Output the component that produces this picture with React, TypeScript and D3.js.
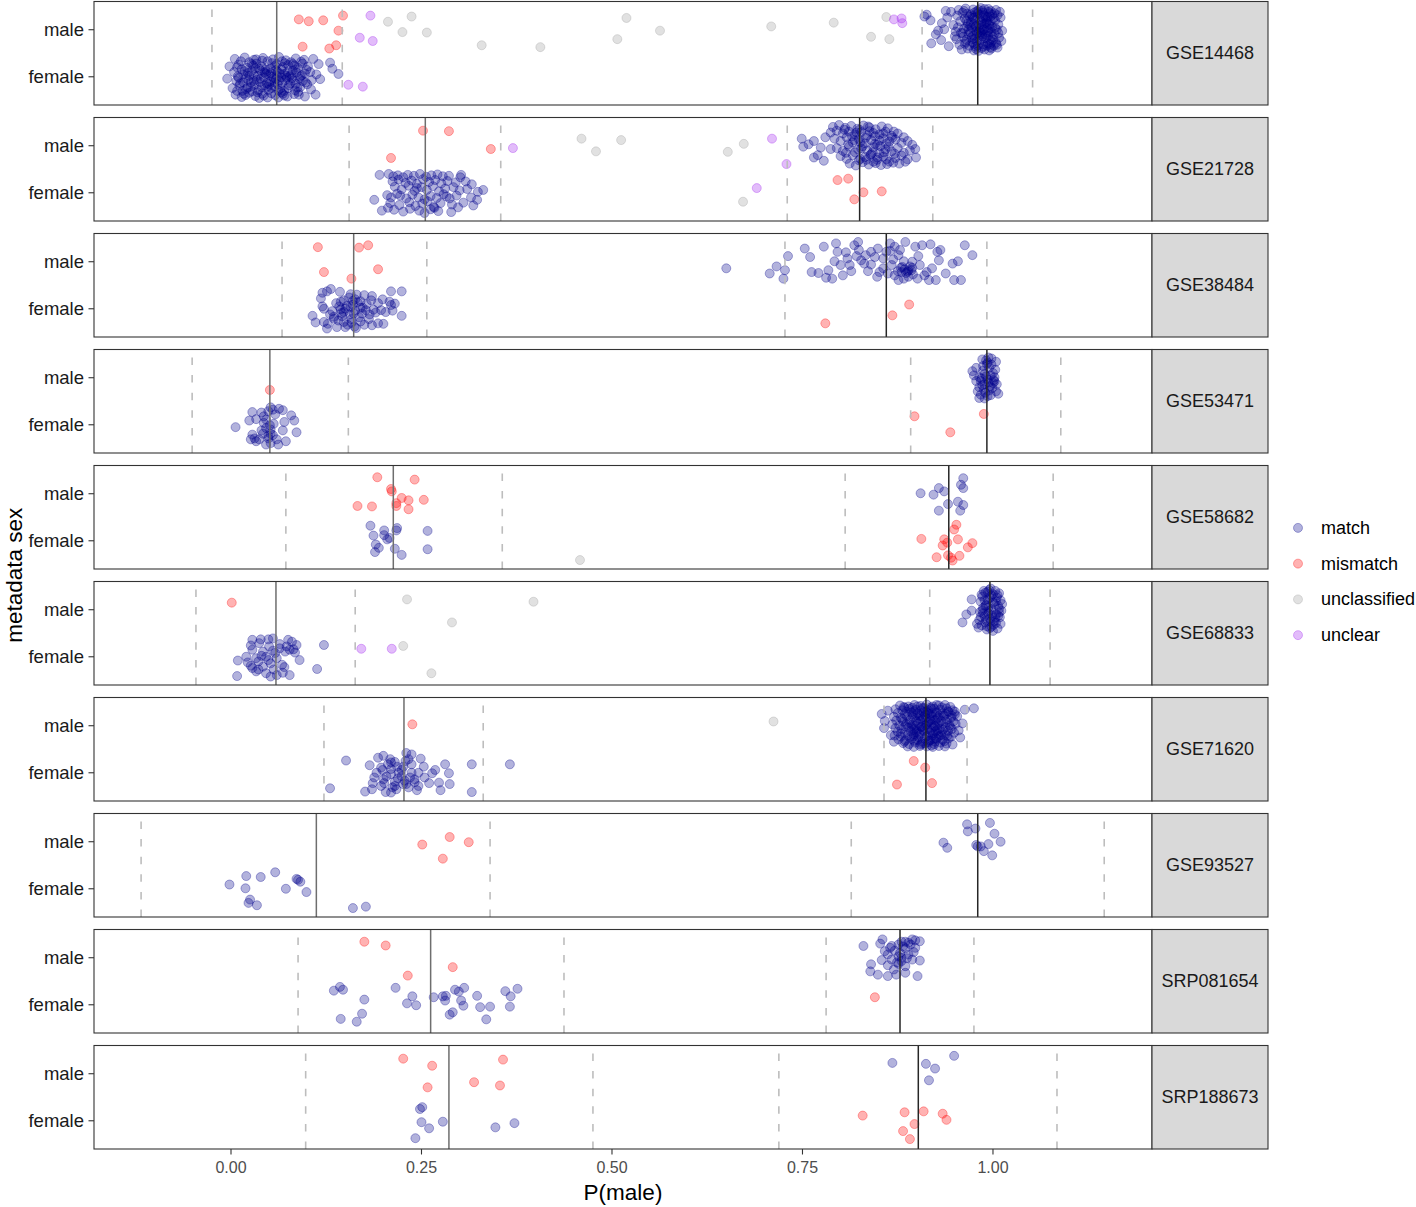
import React from 'react';
import * as d3 from 'd3';

type Pt = [number, number]; // [P(male), jittered sex value: female=1, male=2]

const datasets = ['GSE14468', 'GSE21728', 'GSE38484', 'GSE53471', 'GSE58682', 'GSE68833', 'GSE71620', 'GSE93527', 'SRP081654', 'SRP188673'];
const sexLevels = ['female', 'male'];
const statusLevels = ['match', 'mismatch', 'unclassified', 'unclear'];
const statusColors = ['#00008B', '#FF0000', '#9a9a9a', '#A020F0'];
const xTicks = [0, 0.25, 0.5, 0.75, 1.0];

const femaleMean = [0.060, 0.255, 0.161, 0.051, 0.213, 0.059, 0.227, 0.112, 0.262, 0.286];
const femaleLow = [-0.025, 0.155, 0.067, -0.051, 0.072, -0.046, 0.122, -0.118, 0.088, 0.098];
const femaleHigh = [0.146, 0.354, 0.257, 0.154, 0.356, 0.163, 0.331, 0.340, 0.437, 0.475];
const maleMean = [0.980, 0.825, 0.860, 0.992, 0.942, 0.996, 0.912, 0.980, 0.878, 0.902];
const maleLow = [0.907, 0.730, 0.727, 0.892, 0.806, 0.917, 0.857, 0.814, 0.781, 0.719];
const maleHigh = [1.052, 0.921, 0.992, 1.089, 1.079, 1.075, 0.966, 1.146, 0.975, 1.084];

// ---------------- GSE14468 ----------------
const gse14468Match: Pt[] = [
  [0.005,1.38],[0.018,1.41],[0.030,1.36],[0.042,1.40],[0.055,1.37],[0.063,1.42],[0.072,1.35],[0.085,1.39],[0.096,1.36],[0.108,1.38],[0.024,1.31],[0.048,1.33],[0.079,1.31],[0.130,1.30],[0.115,1.27],
  [-0.002,1.22],[0.010,1.26],[0.021,1.19],[0.033,1.28],[0.040,1.22],[0.052,1.18],[0.060,1.27],[0.068,1.21],[0.075,1.25],[0.088,1.19],[0.094,1.28],[0.101,1.22],[0.014,1.16],[0.029,1.24],[0.045,1.15],[0.058,1.23],[0.066,1.16],[0.083,1.24],[0.099,1.15],[0.133,1.17],[0.008,1.20],[0.037,1.17],[0.071,1.29],
  [0.004,1.10],[0.016,1.05],[0.027,1.12],[0.035,1.02],[0.044,1.09],[0.050,1.04],[0.061,1.11],[0.070,1.06],[0.077,1.01],[0.086,1.09],[0.093,1.03],[0.104,1.10],[0.112,1.05],[0.141,1.06],[0.009,1.01],[0.022,1.08],[0.039,1.13],[0.055,1.00],[0.064,1.07],[0.081,1.13],[0.097,1.07],[0.030,1.04],[0.047,1.12],[0.074,1.10],
  [-0.005,0.96],[0.007,0.91],[0.019,0.97],[0.026,0.88],[0.034,0.94],[0.043,0.99],[0.051,0.90],[0.059,0.95],[0.067,0.87],[0.073,0.98],[0.082,0.92],[0.090,0.96],[0.098,0.88],[0.106,0.93],[0.117,0.95],[0.012,0.86],[0.038,0.89],[0.056,0.97],[0.078,0.86],[0.094,0.91],[0.023,0.93],[0.063,0.92],[0.047,0.86],
  [0.002,0.76],[0.011,0.81],[0.020,0.74],[0.031,0.83],[0.040,0.78],[0.049,0.72],[0.057,0.80],[0.065,0.75],[0.076,0.82],[0.084,0.71],[0.091,0.78],[0.100,0.84],[0.015,0.70],[0.036,0.72],[0.061,0.84],[0.070,0.70],[0.087,0.77],[0.026,0.79],[0.053,0.76],[0.105,0.73],
  [0.006,0.62],[0.014,0.57],[0.024,0.66],[0.032,0.59],[0.041,0.64],[0.048,0.56],[0.058,0.61],[0.066,0.67],[0.074,0.58],[0.083,0.63],[0.097,0.58],[0.111,0.62],[0.019,0.61],[0.037,0.55],[0.053,0.65],[0.070,0.60],[0.088,0.68],[0.028,0.69],[0.062,0.56],
  [0.013,1.33],[0.027,1.27],[0.041,1.34],[0.054,1.29],[0.067,1.33],[0.081,1.27],[0.092,1.32],[0.018,1.12],[0.032,1.18],[0.046,1.06],[0.059,1.14],[0.072,1.02],[0.085,1.15],[0.010,0.98],[0.024,1.02],[0.039,0.96],[0.052,1.08],[0.066,0.99],[0.079,1.05],[0.091,1.00],
  [0.016,0.88],[0.030,0.91],[0.044,0.82],[0.057,0.88],[0.071,0.93],[0.085,0.85],[0.008,0.70],[0.022,0.77],[0.035,0.67],[0.048,0.79],[0.062,0.71],[0.075,0.76],[0.089,0.62],[0.017,0.64],[0.043,0.60],[0.068,0.64],[0.080,0.97],[0.033,1.37],[0.060,1.03],[0.050,0.84],
  [0.913,2.32],[0.910,2.28],[0.918,2.20],[0.933,2.14],[0.936,2.01],[0.925,1.90],[0.919,1.71],[0.932,1.78],[0.945,2.38],[0.940,2.26],[0.928,1.98],[0.942,1.65],[0.950,1.86],[0.938,2.40],[0.948,2.10],
  [0.955,2.42],[0.953,2.30],[0.957,2.18],[0.954,2.05],[0.958,1.93],[0.952,1.80],[0.956,1.68],[0.959,1.58],[0.960,2.36],[0.951,1.96],
  [0.964,2.45],[0.966,2.34],[0.963,2.24],[0.967,2.13],[0.962,2.02],[0.968,1.90],[0.965,1.79],[0.963,1.70],[0.967,1.60],[0.969,2.28],[0.961,1.85],[0.966,2.07],
  [0.974,2.43],[0.976,2.37],[0.973,2.29],[0.977,2.21],[0.975,2.12],[0.972,2.04],[0.978,1.97],[0.974,1.88],[0.976,1.81],[0.973,1.73],[0.977,1.64],[0.975,1.56],[0.971,2.16],[0.979,1.92],
  [0.984,2.46],[0.986,2.40],[0.983,2.32],[0.987,2.25],[0.985,2.17],[0.982,2.09],[0.988,2.01],[0.984,1.94],[0.986,1.86],[0.983,1.77],[0.987,1.69],[0.985,1.61],[0.981,1.55],[0.989,2.13],[0.982,1.98],[0.988,1.82],
  [0.994,2.44],[0.996,2.35],[0.993,2.27],[0.997,2.19],[0.995,2.10],[0.992,2.03],[0.998,1.95],[0.994,1.87],[0.996,1.78],[0.993,1.71],[0.997,1.63],[0.995,1.56],[0.991,2.22],[0.999,2.06],[0.990,1.90],[0.998,1.74],
  [1.004,2.42],[1.006,2.31],[1.003,2.20],[1.007,2.11],[1.005,2.00],[1.002,1.91],[1.008,1.83],[1.004,1.72],[1.006,1.62],[1.010,2.26],[1.012,1.98],[1.001,1.66],[1.009,2.38],[1.011,1.76],
  [0.980,2.35],[0.990,2.28],[0.978,2.08],[0.991,2.14],[0.986,1.90],[0.979,1.76],[0.992,1.66],[0.981,2.42],[0.997,2.40],[0.970,1.95],[0.989,1.58],[0.976,2.26],[0.994,1.98],[0.983,2.04],[0.999,2.32],[1.000,1.85],[0.972,1.84],[0.987,2.36],[0.996,2.02],[0.980,1.66],
  [0.962,2.40],[0.971,2.33],[0.979,2.39],[0.988,2.31],[0.997,2.28],[1.002,2.35],[0.965,2.19],[0.974,2.25],[0.983,2.20],[0.992,2.17],[1.001,2.24],[0.968,2.00],[0.977,2.06],[0.986,1.99],[0.995,2.13],[1.003,2.04],[0.964,1.74],[0.973,1.80],
  [0.982,1.87],[0.991,1.82],[1.000,1.79],[0.969,1.66],[0.978,1.59],[0.987,1.64],[0.996,1.69],[1.005,1.68],[0.960,1.93],[0.985,2.11],[0.993,1.94],[0.975,1.70],[0.989,2.44],[0.998,1.60],[0.970,2.09],[0.981,1.95],[0.994,2.38],[1.007,1.93],
];
const gse14468Mismatch: Pt[] = [[0.089,2.22],[0.102,2.18],[0.121,2.20],[0.147,2.30],[0.141,1.98],[0.094,1.64],[0.129,1.60],[0.138,1.67]];
const gse14468Unclassified: Pt[] = [[0.237,2.28],[0.206,2.17],[0.225,1.95],[0.257,1.94],[0.329,1.67],[0.406,1.63],[0.519,2.25],[0.563,1.98],[0.507,1.80],[0.709,2.07],[0.791,2.15],[0.860,2.27],[0.840,1.85],[0.864,1.80]];
const gse14468Unclear: Pt[] = [[0.183,2.30],[0.169,1.83],[0.186,1.76],[0.870,2.22],[0.880,2.24],[0.881,2.14],[0.154,0.83],[0.173,0.79]];

// ---------------- GSE21728 ----------------
const gse21728Match: Pt[] = [
  [0.188,0.85],[0.205,0.95],[0.198,0.62],[0.206,0.68],[0.195,1.38],[0.207,1.40],[0.213,1.35],[0.219,1.37],[0.226,1.33],[0.232,1.38],[0.240,1.36],[0.248,1.40],[0.256,1.34],[0.263,1.37],[0.271,1.39],[0.278,1.35],[0.286,1.36],[0.301,1.33],[0.302,1.38],
  [0.212,1.24],[0.220,1.28],[0.229,1.21],[0.237,1.26],[0.244,1.19],[0.252,1.29],[0.260,1.23],[0.268,1.27],[0.276,1.20],[0.284,1.25],[0.295,1.22],[0.308,1.24],[0.316,1.18],[0.244,1.10],
  [0.215,1.13],[0.224,1.07],[0.233,1.15],[0.241,1.04],[0.250,1.12],[0.257,1.06],[0.265,1.14],[0.273,1.03],[0.281,1.09],[0.292,1.12],[0.300,1.05],[0.310,1.08],[0.324,1.02],[0.331,1.06],[0.218,0.98],
  [0.210,0.90],[0.222,0.94],[0.230,0.88],[0.238,0.96],[0.246,0.90],[0.254,0.86],[0.262,0.93],[0.270,0.89],[0.279,0.97],[0.287,0.88],[0.296,0.94],[0.315,0.90],[0.323,0.85],[0.283,0.92],
  [0.209,0.78],[0.221,0.74],[0.234,0.80],[0.242,0.72],[0.251,0.77],[0.258,0.82],[0.266,0.70],[0.275,0.78],[0.290,0.75],[0.305,0.79],[0.298,0.69],[0.318,0.73],
  [0.214,0.64],[0.226,0.60],[0.235,0.66],[0.247,0.62],[0.254,0.57],[0.262,0.65],[0.272,0.61],[0.289,0.59],[0.267,0.68],
  [0.749,2.15],[0.751,1.98],[0.765,2.10],[0.765,1.75],[0.774,1.96],[0.787,1.93],[0.758,2.03],[0.770,1.80],[0.780,2.18],[0.778,1.68],
  [0.790,2.40],[0.798,2.44],[0.806,2.38],[0.814,2.42],[0.822,2.36],[0.830,2.43],[0.838,2.39],[0.846,2.35],[0.854,2.41],[0.862,2.37],[0.870,2.30],
  [0.787,2.28],[0.795,2.32],[0.803,2.26],[0.811,2.30],[0.819,2.24],[0.827,2.29],[0.835,2.22],[0.843,2.27],[0.851,2.24],[0.859,2.30],[0.867,2.21],[0.875,2.26],[0.883,2.18],
  [0.792,2.15],[0.800,2.10],[0.808,2.18],[0.816,2.07],[0.824,2.14],[0.832,2.05],[0.840,2.12],[0.848,2.02],[0.856,2.16],[0.864,2.09],[0.872,2.13],[0.880,2.06],[0.888,2.10],[0.894,2.02],
  [0.795,1.95],[0.803,1.89],[0.811,1.98],[0.819,1.86],[0.827,1.94],[0.835,1.90],[0.843,1.97],[0.851,1.84],[0.859,1.92],[0.867,1.88],[0.875,1.95],[0.883,1.85],[0.891,1.90],[0.898,1.93],
  [0.800,1.78],[0.808,1.72],[0.816,1.80],[0.824,1.69],[0.832,1.76],[0.840,1.82],[0.848,1.70],[0.856,1.77],[0.864,1.66],[0.872,1.74],[0.880,1.79],[0.888,1.71],[0.899,1.75],[0.877,1.62],
  [0.812,1.62],[0.820,1.58],[0.829,1.65],[0.837,1.60],[0.846,1.63],[0.853,1.59],[0.861,1.61],[0.869,1.64],[0.885,1.66],
  [0.825,2.34],[0.845,2.20],[0.829,1.99],[0.842,1.86],[0.834,1.70],[0.852,1.99],[0.818,2.12],[0.860,2.05],[0.836,2.41],[0.848,1.75],
  [0.805,2.34],[0.821,2.28],[0.838,2.31],[0.856,2.26],[0.815,2.20],[0.833,2.17],[0.851,2.11],[0.868,2.17],[0.810,2.03],[0.826,2.08],[0.845,2.04],[0.863,1.98],[0.807,1.85],[0.823,1.92],[0.839,1.80],[0.857,1.86],[0.871,1.83],[0.826,1.72],[0.843,1.66],[0.860,1.71],
];
const gse21728Mismatch: Pt[] = [[0.252,2.32],[0.286,2.31],[0.341,1.93],[0.210,1.74],[0.796,1.27],[0.810,1.30],[0.830,1.01],[0.854,1.03],[0.818,0.86]];
const gse21728Unclassified: Pt[] = [[0.460,2.15],[0.512,2.12],[0.479,1.88],[0.652,1.87],[0.673,2.04],[0.672,0.81]];
const gse21728Unclear: Pt[] = [[0.370,1.95],[0.710,2.15],[0.729,1.61],[0.690,1.10]];

// ---------------- GSE38484 ----------------
const gse38484Match: Pt[] = [
  [0.131,1.42],[0.126,1.37],[0.143,1.36],[0.157,1.31],[0.175,1.29],[0.185,1.27],[0.210,1.37],[0.224,1.37],[0.120,1.34],[0.118,1.22],[0.144,1.15],[0.160,1.17],[0.170,1.16],[0.184,1.18],[0.193,1.12],[0.215,1.11],
  [0.197,0.97],[0.203,0.93],[0.224,0.85],[0.107,0.85],[0.111,0.71],[0.122,0.72],[0.135,0.79],[0.144,0.99],[0.148,0.93],[0.161,0.90],[0.170,0.73],[0.182,0.88],[0.185,0.65],[0.193,0.69],[0.126,0.58],[0.150,0.61],
  [0.164,0.59],[0.139,0.61],[0.130,0.88],[0.122,1.00],[0.157,1.04],[0.173,1.02],[0.210,1.08],[0.208,1.15],
  [0.152,1.06],[0.163,0.96],[0.146,0.84],[0.178,1.10],[0.168,0.82],[0.155,1.24],[0.138,1.12],[0.187,0.98],[0.158,0.70],[0.175,0.66],[0.133,0.95],[0.199,1.20],[0.165,1.30],[0.141,0.75],[0.181,0.78],[0.190,0.92],
  [0.148,1.18],[0.170,1.02],[0.156,0.88],[0.120,1.05],[0.200,0.68],[0.212,0.96],[0.127,0.68],[0.162,0.62],
  [0.150,1.00],[0.160,1.09],[0.145,0.91],[0.172,0.90],[0.158,0.78],[0.142,1.05],[0.166,1.14],[0.135,0.83],[0.177,0.97],[0.153,0.66],[0.148,0.72],[0.163,1.20],
  [0.650,1.86],[0.707,1.75],[0.716,1.90],[0.725,1.64],[0.727,1.82],[0.731,2.12],[0.753,2.28],[0.760,2.10],[0.771,1.76],[0.781,1.66],[0.784,1.82],[0.789,1.64],[0.794,2.39],[0.796,2.21],[0.800,1.93],[0.807,2.20],
  [0.809,2.07],[0.814,1.80],[0.818,2.35],[0.821,2.12],[0.823,2.42],[0.827,2.03],[0.831,1.96],[0.836,1.80],[0.840,2.21],[0.845,2.10],[0.849,2.28],[0.851,1.78],[0.856,2.07],[0.860,2.21],[0.865,2.39],[0.867,1.93],
  [0.871,2.32],[0.876,2.14],[0.880,1.78],[0.883,1.64],[0.885,2.42],[0.889,1.82],[0.894,2.00],[0.898,2.32],[0.902,2.12],[0.907,2.35],[0.910,1.71],[0.916,1.61],[0.918,2.37],[0.920,1.86],[0.925,1.61],[0.929,2.03],
  [0.931,2.25],[0.938,1.75],[0.947,1.96],[0.949,1.61],[0.954,2.01],[0.958,1.61],[0.963,2.35],[0.973,2.14],[0.862,1.75],[0.871,1.71],[0.881,1.89],[0.889,1.68],[0.895,1.73],[0.869,2.05],[0.856,1.86],[0.833,2.14],
  [0.812,1.93],[0.824,2.25],[0.840,1.94],[0.878,2.25],[0.904,1.93],[0.913,1.78],[0.927,2.21],[0.848,1.68],[0.792,2.01],[0.803,1.71],[0.762,1.78],[0.778,2.32],[0.865,2.23],[0.883,2.01],[0.894,1.87],[0.901,1.64],
  [0.876,1.61],[0.884,1.84],[0.888,1.79],[0.891,1.90],[0.879,1.87],[0.886,1.76],[0.893,1.82],[0.875,1.80],
];
const gse38484Mismatch: Pt[] = [[0.114,2.31],[0.168,2.30],[0.180,2.35],[0.122,1.78],[0.193,1.84],[0.158,1.64],[0.890,1.09],[0.868,0.86],[0.780,0.69]];
const gse38484Unclassified: Pt[] = [];
const gse38484Unclear: Pt[] = [];

// ---------------- GSE53471 ----------------
const gse53471Match: Pt[] = [
  [0.052,1.37],[0.055,1.32],[0.049,1.29],[0.028,1.27],[0.040,1.26],[0.068,1.31],[0.079,1.20],[0.083,1.09],[0.024,1.09],[0.033,1.12],[0.043,1.04],[0.051,0.99],[0.006,0.95],[0.070,1.06],[0.046,0.93],[0.052,0.90],
  [0.068,0.88],[0.086,0.84],[0.028,0.79],[0.042,0.81],[0.055,0.78],[0.037,0.69],[0.026,0.69],[0.049,0.71],[0.060,0.69],[0.072,0.65],[0.046,0.58],[0.062,0.58],[0.052,0.61],[0.033,0.65],[0.043,1.18],[0.058,1.22],
  [0.046,1.11],[0.052,0.81],[0.040,0.88],[0.056,1.02],[0.049,0.76],[0.031,0.71],[0.063,1.34],
  [0.998,2.41],[1.004,2.34],[0.993,2.32],[0.987,2.25],[0.978,2.21],[0.973,2.14],[1.000,2.10],[0.989,2.08],[0.982,2.01],[1.002,2.01],[0.993,1.96],[0.978,1.93],[1.000,1.89],[0.989,1.86],[0.982,1.80],[1.004,1.71],
  [0.995,1.73],[0.984,1.64],[0.993,1.61],[0.982,1.57],[1.007,1.66],[0.995,2.21],[0.991,2.37],[0.987,2.15],[0.998,2.28],[0.984,1.93],[0.996,1.82],[1.001,1.95],[0.980,1.71],[0.991,2.03],[0.988,1.75],[0.997,1.63],
  [0.975,2.05],[1.003,2.17],[0.994,1.90],[0.989,1.56],[0.986,2.39],[1.005,1.86],
  [0.992,2.29],[0.997,2.05],[0.985,1.98],[0.999,1.78],[0.990,1.68],[0.994,2.43],[1.002,1.92],[0.986,1.84],
];
const gse53471Mismatch: Pt[] = [[0.051,1.74],[0.897,1.18],[0.988,1.23],[0.944,0.84]];
const gse53471Unclassified: Pt[] = [];
const gse53471Unclear: Pt[] = [];

// ---------------- GSE58682 ----------------
const gse58682Match: Pt[] = [
  [0.183,1.32],[0.218,1.27],[0.201,1.22],[0.217,1.22],[0.258,1.21],[0.187,1.11],[0.201,1.12],[0.208,1.06],[0.205,1.03],[0.190,0.92],[0.215,0.83],[0.189,0.76],[0.194,0.85],[0.258,0.82],[0.224,0.70],
  [0.961,2.33],[0.958,2.19],[0.961,2.12],[0.929,2.12],[0.936,2.05],[0.905,2.01],[0.922,1.98],[0.954,1.83],[0.961,1.76],[0.941,1.78],[0.929,1.64],[0.957,1.64],
];
const gse58682Mismatch: Pt[] = [
  [0.192,2.35],[0.241,2.30],[0.210,2.10],[0.211,2.05],[0.224,1.91],[0.233,1.86],[0.253,1.87],[0.166,1.74],[0.185,1.73],[0.217,1.80],[0.217,1.74],[0.233,1.67],
  [0.952,1.34],[0.949,1.24],[0.906,1.04],[0.936,1.03],[0.954,1.03],[0.934,0.90],[0.940,0.96],[0.973,0.95],[0.967,0.86],[0.926,0.65],[0.941,0.69],[0.947,0.58],[0.956,0.68],[0.945,0.64],
];
const gse58682Unclassified: Pt[] = [[0.458,0.59]];
const gse58682Unclear: Pt[] = [];

// ---------------- GSE68833 ----------------
const gse68833Match: Pt[] = [
  [0.028,1.36],[0.039,1.37],[0.049,1.37],[0.055,1.39],[0.075,1.36],[0.080,1.32],[0.086,1.25],[0.026,1.24],[0.037,1.29],[0.050,1.22],[0.064,1.18],[0.077,1.15],[0.028,1.15],[0.042,1.11],[0.058,1.08],[0.071,1.11],
  [0.084,1.09],[0.020,1.00],[0.033,0.97],[0.046,1.00],[0.060,0.97],[0.090,0.93],[0.009,0.92],[0.022,0.88],[0.036,0.90],[0.052,0.86],[0.067,0.83],[0.028,0.76],[0.042,0.79],[0.056,0.73],[0.070,0.78],[0.033,0.69],
  [0.046,0.65],[0.060,0.61],[0.077,0.61],[0.008,0.59],[0.052,0.58],[0.068,0.66],[0.026,0.81],[0.040,1.02],[0.055,1.13],[0.064,1.27],[0.049,0.93],[0.036,0.73],[0.073,1.22],[0.082,1.16],[0.122,1.25],[0.113,0.74],
  [0.972,2.22],[0.972,1.98],[0.965,1.90],[0.960,1.73],
  [0.995,2.42],[1.003,2.40],[0.990,2.36],[1.008,2.35],[0.998,2.30],[0.986,2.28],[1.005,2.26],[0.993,2.22],[1.010,2.20],[0.984,2.17],[1.000,2.15],[0.991,2.10],[1.007,2.08],[0.987,2.04],[0.998,2.01],[1.011,1.98],
  [0.983,1.95],[0.994,1.92],[1.004,1.90],[0.989,1.86],[1.009,1.84],[0.996,1.81],[0.982,1.78],[1.002,1.76],[0.990,1.73],[1.010,1.70],[0.985,1.67],[0.998,1.64],[0.981,1.62],[1.006,1.60],[0.992,1.58],[1.000,1.55],
  [0.988,2.40],[1.012,2.12],[0.979,1.70],[0.997,2.45],[1.001,1.68],[0.994,2.05],[0.987,1.92],[1.004,2.18],[0.999,1.88],[0.985,2.32],[1.008,1.94],[0.992,1.65],[0.996,2.25],[1.003,1.83],
  [0.993,2.38],[1.006,2.31],[0.989,2.20],[1.002,2.12],[0.995,1.97],[1.007,1.87],[0.991,1.78],[1.004,1.72],[0.996,1.61],[0.986,1.98],[1.000,2.33],[0.990,2.08],[1.008,2.02],[0.997,1.75],[0.984,1.85],
];
const gse68833Mismatch: Pt[] = [[0.001,2.15]];
const gse68833Unclassified: Pt[] = [[0.231,2.22],[0.397,2.17],[0.290,1.73],[0.226,1.23],[0.263,0.65]];
const gse68833Unclear: Pt[] = [[0.171,1.17],[0.211,1.17]];

// ---------------- GSE71620 ----------------
const gse71620Match: Pt[] = [
  [0.151,1.26],[0.130,0.67],[0.316,1.18],[0.366,1.18],[0.316,0.59],[0.176,0.60],[0.193,1.32],[0.200,1.36],[0.209,1.29],[0.215,1.23],[0.182,1.16],[0.197,1.11],[0.210,1.08],[0.230,1.42],[0.237,1.39],[0.233,1.29],
  [0.249,1.30],[0.226,1.13],[0.237,1.00],[0.224,0.93],[0.210,0.97],[0.200,0.86],[0.188,0.90],[0.186,0.78],[0.201,0.78],[0.215,0.81],[0.228,0.83],[0.241,0.86],[0.254,0.90],[0.264,0.99],[0.268,1.06],[0.281,1.18],
  [0.286,0.99],[0.287,0.76],[0.273,0.79],[0.260,0.78],[0.246,0.72],[0.233,0.69],[0.217,0.65],[0.203,0.59],[0.210,0.58],[0.244,0.63],[0.275,0.63],[0.224,1.06],[0.219,0.88],[0.206,1.18],[0.191,1.00],[0.237,1.18],
  [0.253,1.13],[0.230,0.76],[0.215,0.72],[0.197,0.72],[0.246,1.00],[0.185,0.65],
  [0.210,1.22],[0.220,1.00],[0.204,0.92],[0.226,0.76],[0.235,0.90],[0.218,1.13],[0.241,0.80],[0.199,1.06],[0.212,0.69],[0.229,1.25],
  [0.975,2.37],[0.963,2.34],[0.854,2.25],[0.858,2.10],[0.857,1.95],[0.862,2.32],[0.866,1.80],[0.870,1.66],[0.960,2.05],[0.955,1.90],[0.950,2.30],[0.957,1.75],
  [0.878,2.43],[0.889,2.41],[0.897,2.44],[0.905,2.42],[0.913,2.45],[0.921,2.41],[0.929,2.43],[0.937,2.44],[0.944,2.40],[0.884,2.38],
  [0.872,2.35],[0.881,2.33],[0.890,2.36],[0.899,2.34],[0.907,2.37],[0.915,2.33],[0.923,2.36],[0.931,2.34],[0.939,2.37],[0.947,2.33],[0.918,2.39],
  [0.875,2.27],[0.884,2.25],[0.893,2.28],[0.901,2.26],[0.909,2.29],[0.917,2.25],[0.926,2.28],[0.934,2.26],[0.942,2.29],[0.950,2.24],[0.896,2.31],
  [0.870,2.19],[0.879,2.17],[0.887,2.20],[0.895,2.18],[0.904,2.21],[0.912,2.17],[0.920,2.20],[0.928,2.18],[0.936,2.21],[0.945,2.17],[0.953,2.20],[0.911,2.23],
  [0.873,2.11],[0.882,2.09],[0.891,2.12],[0.899,2.10],[0.907,2.13],[0.916,2.09],[0.924,2.12],[0.932,2.10],[0.940,2.13],[0.948,2.09],[0.927,2.15],
  [0.868,2.03],[0.877,2.01],[0.886,2.04],[0.894,2.02],[0.902,2.05],[0.911,2.01],[0.919,2.04],[0.927,2.02],[0.935,2.05],[0.943,2.01],[0.951,2.04],[0.906,1.98],
  [0.872,1.95],[0.880,1.93],[0.889,1.96],[0.897,1.94],[0.906,1.97],[0.914,1.93],[0.922,1.96],[0.930,1.94],[0.938,1.97],[0.946,1.93],[0.918,1.90],
  [0.875,1.87],[0.884,1.85],[0.892,1.88],[0.900,1.86],[0.909,1.89],[0.917,1.85],[0.925,1.88],[0.933,1.86],[0.941,1.89],[0.949,1.85],[0.896,1.82],
  [0.871,1.79],[0.879,1.77],[0.888,1.80],[0.896,1.78],[0.904,1.81],[0.913,1.77],[0.921,1.80],[0.929,1.78],[0.937,1.81],[0.945,1.77],[0.925,1.74],
  [0.876,1.71],[0.885,1.69],[0.893,1.72],[0.901,1.70],[0.910,1.73],[0.918,1.69],[0.926,1.72],[0.934,1.70],[0.942,1.73],[0.907,1.66],
  [0.882,1.63],[0.890,1.61],[0.898,1.64],[0.907,1.62],[0.915,1.65],[0.923,1.61],[0.931,1.64],[0.939,1.62],[0.947,1.60],
  [0.888,1.56],[0.896,1.55],[0.904,1.57],[0.913,1.56],[0.921,1.55],[0.929,1.57],[0.937,1.56],
  [0.903,2.15],[0.915,2.07],[0.908,1.92],[0.921,1.84],[0.898,2.00],[0.912,2.30],[0.924,1.99],[0.902,1.76],[0.916,1.68],[0.930,2.22],[0.895,2.24],[0.909,2.38],[0.920,2.27],[0.900,1.90],[0.913,2.03],[0.927,1.91],
  [0.905,1.60],[0.918,2.12],[0.893,1.98],[0.932,1.80],
  [0.883,2.40],[0.894,2.38],[0.906,2.33],[0.919,2.36],[0.933,2.39],[0.941,2.31],[0.887,2.30],[0.899,2.22],[0.914,2.27],[0.925,2.23],[0.938,2.25],[0.946,2.21],[0.881,2.14],[0.890,2.07],[0.905,2.10],[0.917,2.15],
  [0.929,2.06],[0.939,2.08],[0.885,1.99],[0.896,1.91],[0.910,1.95],[0.923,2.00],[0.934,1.91],[0.944,1.97],[0.879,1.83],[0.891,1.76],[0.903,1.84],[0.915,1.79],[0.928,1.83],[0.940,1.78],[0.884,1.66],[0.897,1.68],
  [0.911,1.62],[0.924,1.66],[0.936,1.67],[0.919,1.58],[0.901,2.41],[0.926,2.44],[0.908,2.18],[0.922,1.72],
];
const gse71620Mismatch: Pt[] = [[0.238,2.03],[0.896,1.25],[0.911,1.11],[0.874,0.75],[0.920,0.78]];
const gse71620Unclassified: Pt[] = [[0.712,2.09]];
const gse71620Unclear: Pt[] = [];

// ---------------- GSE93527 ----------------
const gse93527Match: Pt[] = [
  [0.058,1.35],[0.020,1.27],[0.039,1.25],[0.086,1.21],[0.088,1.19],[0.091,1.15],[-0.002,1.09],[0.019,1.01],[0.072,1.00],[0.099,0.93],[0.025,0.77],[0.023,0.70],[0.034,0.65],[0.160,0.59],[0.177,0.62],
  [0.966,2.37],[0.996,2.40],[0.977,2.28],[0.967,2.22],[1.002,2.17],[0.935,1.98],[0.940,1.87],[1.010,2.00],[0.994,1.95],[0.978,1.93],[0.984,1.90],[0.988,1.80],[0.999,1.71],[0.980,1.90],
];
const gse93527Mismatch: Pt[] = [[0.287,2.10],[0.312,1.99],[0.251,1.94],[0.278,1.64]];
const gse93527Unclassified: Pt[] = [];
const gse93527Unclear: Pt[] = [];

// ---------------- SRP081654 ----------------
const srp081654Match: Pt[] = [
  [0.135,1.30],[0.143,1.38],[0.147,1.32],[0.216,1.36],[0.175,1.11],[0.231,1.03],[0.238,1.18],[0.243,0.99],[0.144,0.70],[0.165,0.64],[0.172,0.81],[0.266,1.16],[0.278,1.18],[0.282,1.19],[0.281,1.09],
  [0.294,1.32],[0.299,1.28],[0.306,1.36],[0.302,1.09],[0.305,0.98],[0.291,0.84],[0.287,0.79],[0.323,1.19],[0.327,0.95],[0.340,0.96],[0.335,0.69],[0.360,1.29],[0.367,1.18],[0.376,1.34],[0.366,0.96],
  [0.830,2.25],[0.852,2.30],[0.855,2.39],[0.880,2.34],[0.894,2.39],[0.898,2.37],[0.904,2.35],[0.889,2.32],[0.876,2.28],[0.867,2.25],[0.858,2.14],[0.871,2.15],[0.885,2.20],[0.898,2.21],[0.862,2.07],
  [0.876,2.03],[0.889,2.07],[0.854,1.95],[0.867,1.96],[0.880,1.93],[0.894,1.96],[0.904,1.94],[0.840,1.86],[0.862,1.84],[0.876,1.87],[0.885,1.82],[0.839,1.71],[0.849,1.64],[0.862,1.61],[0.873,1.64],
  [0.885,1.68],[0.901,1.61],[0.870,1.75],[0.880,2.00],[0.865,2.21],[0.885,2.34],[0.892,2.28],[0.878,2.10],[0.887,1.99],[0.874,1.90],[0.896,2.12],[0.882,2.24],
];
const srp081654Mismatch: Pt[] = [[0.175,2.34],[0.203,2.26],[0.291,1.80],[0.232,1.62],[0.845,1.16]];
const srp081654Unclassified: Pt[] = [];
const srp081654Unclear: Pt[] = [];

// ---------------- SRP188673 ----------------
const srp188673Match: Pt[] = [
  [0.868,2.23],[0.912,2.21],[0.924,2.11],[0.949,2.38],[0.916,1.86],
  [0.248,1.25],[0.251,1.29],[0.250,0.97],[0.278,0.98],[0.260,0.84],[0.242,0.63],[0.347,0.86],[0.372,0.95],
];
const srp188673Mismatch: Pt[] = [[0.226,2.32],[0.264,2.17],[0.357,2.30],[0.319,1.82],[0.353,1.75],[0.258,1.71],[0.829,1.11],[0.884,1.18],[0.909,1.20],[0.934,1.15],[0.939,1.02],[0.897,0.93],[0.882,0.78],[0.891,0.61]];
const srp188673Unclassified: Pt[] = [];
const srp188673Unclear: Pt[] = [];

const pointsByDataset: Pt[][][] = [
  [gse14468Match, gse14468Mismatch, gse14468Unclassified, gse14468Unclear],
  [gse21728Match, gse21728Mismatch, gse21728Unclassified, gse21728Unclear],
  [gse38484Match, gse38484Mismatch, gse38484Unclassified, gse38484Unclear],
  [gse53471Match, gse53471Mismatch, gse53471Unclassified, gse53471Unclear],
  [gse58682Match, gse58682Mismatch, gse58682Unclassified, gse58682Unclear],
  [gse68833Match, gse68833Mismatch, gse68833Unclassified, gse68833Unclear],
  [gse71620Match, gse71620Mismatch, gse71620Unclassified, gse71620Unclear],
  [gse93527Match, gse93527Mismatch, gse93527Unclassified, gse93527Unclear],
  [srp081654Match, srp081654Mismatch, srp081654Unclassified, srp081654Unclear],
  [srp188673Match, srp188673Mismatch, srp188673Unclassified, srp188673Unclear],
];

const W = 1416;
const H = 1207;
const plotLeft = 94;
const plotRight = 1152;
const stripRight = 1268;
const panelTop0 = 1.5;
const panelStep = 116;
const panelH = 103.5;
const FONT = '"Liberation Sans", Arial, Helvetica, sans-serif';
const R = 4.5;

export default function App() {
  const x = d3.scaleLinear().domain([-0.1798, 1.2087]).range([plotLeft, plotRight]);
  const lastBottom = panelTop0 + (datasets.length - 1) * panelStep + panelH;
  const legendY = d3.scaleBand().domain(statusLevels).range([510, 653]);

  return (
    <svg width={W} height={H} style={{ position: 'absolute', left: 0, top: 0, background: '#fff' }} fontFamily={FONT}>
      {datasets.map((ds, i) => {
        const top = panelTop0 + i * panelStep;
        const y = d3.scaleLinear().domain([0.4, 2.6]).range([top + panelH, top]);
        const vlines = [
          { v: femaleLow[i], kind: 'dash' },
          { v: femaleHigh[i], kind: 'dash' },
          { v: maleLow[i], kind: 'dash' },
          { v: maleHigh[i], kind: 'dash' },
          { v: femaleMean[i], kind: 'femaleMean' },
          { v: maleMean[i], kind: 'maleMean' },
        ];
        return (
          <g key={ds}>
            <rect x={plotLeft} y={top} width={plotRight - plotLeft} height={panelH} fill="#fff" />
            <clipPath id={`clip${i}`}>
              <rect x={plotLeft} y={top} width={plotRight - plotLeft} height={panelH} />
            </clipPath>
            <g clipPath={`url(#clip${i})`}>
              {pointsByDataset[i].map((pts, s) =>
                pts.map((p, k) => (
                  <circle
                    key={`${s}-${k}`}
                    cx={x(p[0])}
                    cy={y(p[1])}
                    r={R}
                    fill={statusColors[s]}
                    fillOpacity={0.3}
                    stroke={statusColors[s]}
                    strokeOpacity={0.32}
                    strokeWidth={1}
                  />
                ))
              )}
              {vlines.map((l, k) => (
                <line
                  key={k}
                  x1={x(l.v)}
                  x2={x(l.v)}
                  y1={top + panelH}
                  y2={top}
                  stroke={l.kind === 'dash' ? '#bdbdbd' : l.kind === 'femaleMean' ? '#6e6e6e' : '#262626'}
                  strokeWidth={l.kind === 'dash' ? 1.6 : 1.5}
                  strokeDasharray={l.kind === 'dash' ? '7.5 10.1' : undefined}
                />
              ))}
            </g>
            <rect x={plotLeft} y={top} width={plotRight - plotLeft} height={panelH} fill="none" stroke="#333" strokeWidth={1.1} />
            <rect x={plotRight} y={top} width={stripRight - plotRight} height={panelH} fill="#d9d9d9" stroke="#333" strokeWidth={1.1} />
            <text x={(plotRight + stripRight) / 2} y={top + panelH / 2} textAnchor="middle" dominantBaseline="central" fontSize={18} fill="#1a1a1a">
              {ds}
            </text>
            {sexLevels.map((sx, k) => (
              <g key={sx}>
                <line x1={plotLeft - 5.5} x2={plotLeft} y1={y(k + 1)} y2={y(k + 1)} stroke="#333" strokeWidth={1.1} />
                <text x={plotLeft - 10} y={y(k + 1)} textAnchor="end" dominantBaseline="central" fontSize={18.5} fill="#1a1a1a">
                  {sx}
                </text>
              </g>
            ))}
          </g>
        );
      })}
      {xTicks.map((t) => (
        <g key={t}>
          <line x1={x(t)} x2={x(t)} y1={lastBottom} y2={lastBottom + 5.5} stroke="#333" strokeWidth={1.1} />
          <text x={x(t)} y={lastBottom + 18} textAnchor="middle" dominantBaseline="central" fontSize={16} fill="#4d4d4d">
            {d3.format('.2f')(t)}
          </text>
        </g>
      ))}
      <text x={(plotLeft + plotRight) / 2} y={lastBottom + 43} textAnchor="middle" dominantBaseline="central" fontSize={22.5} fill="#000">
        P(male)
      </text>
      <text transform={`translate(14,${(panelTop0 + lastBottom) / 2}) rotate(-90)`} textAnchor="middle" dominantBaseline="central" fontSize={22.5} fill="#000">
        metadata sex
      </text>
      {statusLevels.map((s, k) => {
        const cy = (legendY(s) as number) + legendY.bandwidth() / 2;
        return (
          <g key={s}>
            <circle cx={1298} cy={cy} r={R} fill={statusColors[k]} fillOpacity={0.3} stroke={statusColors[k]} strokeOpacity={0.32} />
            <text x={1321} y={cy} dominantBaseline="central" fontSize={18} fill="#000">
              {s}
            </text>
          </g>
        );
      })}
    </svg>
  );
}
